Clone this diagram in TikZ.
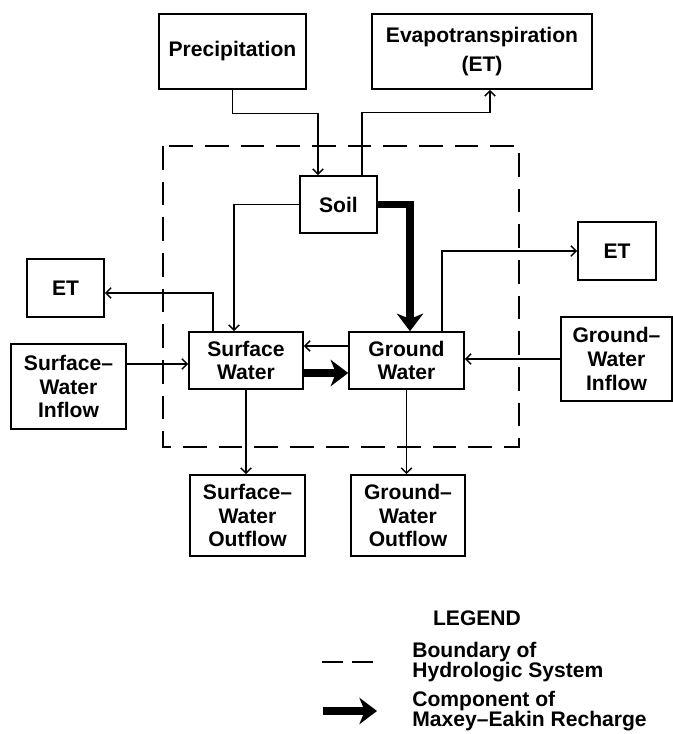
\documentclass[tikz,border=0pt]{standalone}
\usepackage{fontspec}
\setmainfont{Liberation Sans}
\usetikzlibrary{arrows.meta,positioning}

\tikzset{
  box/.style={draw, line width=0.9pt, align=center, inner sep=1pt,
    font=\bfseries\fontsize{12}{13.6}\selectfont},
  flow/.style={line width=0.8pt, -{Straight Barb[length=3pt,width=6pt]}},
  recharge/.style={line width=4pt, -{Stealth[length=10pt,width=15pt,inset=3pt]}},
  boundary/.style={line width=0.8pt, dash pattern=on 13.5pt off 6.8pt},
  legendtext/.style={align=left, anchor=west, inner sep=0pt,
    font=\bfseries\fontsize{12}{11.3}\selectfont}
}

\begin{document}
\begin{tikzpicture}[x=0.02cm, y=-0.02cm]
\useasboundingbox (0,0) rectangle (673,734);
% Boundary of the hydrologic system
\draw[boundary] (163,146) rectangle (519,447);
% Boxes
\node[box, minimum width=2.94cm, minimum height=1.5cm] (prec) at (232.5,51.5) {Precipitation};
\node[box, minimum width=4.4cm, minimum height=1.5cm] (evap) at (482,51.5) {Evapotranspiration\\[3pt](ET)};
\node[box, minimum width=1.54cm, minimum height=1.14cm] (soil) at (338.5,204.5) {Soil};
\node[box, minimum width=1.54cm, minimum height=1.16cm] (etl) at (65.5,288) {ET};
\node[box, minimum width=1.56cm, minimum height=1.16cm] (etr) at (617,251) {ET};
\node[box, minimum width=2.3cm, minimum height=1.7cm] (swin) at (68.5,386.5) {Surface--\\Water\\Inflow};
\node[box, minimum width=2.28cm, minimum height=1.14cm] (sw) at (246,360.5) {Surface\\Water};
\node[box, minimum width=2.3cm, minimum height=1.14cm] (gw) at (406.5,360.5) {Ground\\Water};
\node[box, minimum width=2.22cm, minimum height=1.68cm] (gwin) at (616.5,359) {Ground--\\Water\\Inflow};
\node[box, minimum width=2.3cm, minimum height=1.62cm] (swout) at (247.5,515.5) {Surface--\\Water\\Outflow};
\node[box, minimum width=2.28cm, minimum height=1.62cm] (gwout) at (408,515.5) {Ground--\\Water\\Outflow};
% Flows
\draw[flow] (prec.south) -- ++(0,24) -| ([xshift=-0.41cm]soil.north);
\draw[flow] ([xshift=0.47cm]soil.north) -- ++(0,-63) -| ([xshift=0.16cm]evap.south);
\draw[flow] (soil.west) -| ([xshift=-0.24cm]sw.north);
\draw[recharge] (soil.east) -| ([xshift=0.07cm]gw.north);
\draw[flow] ([xshift=-0.66cm]sw.north) |- ([yshift=-0.1cm]etl.east);
\draw[flow] ([xshift=0.71cm]gw.north) |- (etr.west);
\draw[flow] ([yshift=0.29cm]gw.west) -- ([yshift=0.29cm]sw.east);
\draw[recharge] ([yshift=-0.25cm]sw.east) -- ([yshift=-0.25cm]gw.west);
\coordinate (swinout) at ([yshift=0.45cm]swin.east);
\draw[flow] (swinout) -- (swinout -| sw.west);
\draw[flow] (gwin.west) -- (gwin.west -| gw.east);
\draw[flow] (sw.south) -- (sw.south |- swout.north);
\draw[flow] (gw.south) -- (gw.south |- gwout.north);
% Legend
\node[font=\bfseries\fontsize{12}{13.6}\selectfont, anchor=base] (legend) at (477,625) {LEGEND};
\node[legendtext] (bnd) at (412,662) {Boundary of\\Hydrologic System};
\node[legendtext] (mek) at (412,711) {Component of\\Maxey--Eakin Recharge};
\draw[line width=0.8pt, dash pattern=on 11.9pt off 5.1pt] ([xshift=-1.8cm]bnd.west) -- ([xshift=-0.78cm]bnd.west);
\draw[recharge] ([xshift=-1.78cm]mek.west) -- ([xshift=-0.7cm]mek.west);
\end{tikzpicture}
\end{document}
